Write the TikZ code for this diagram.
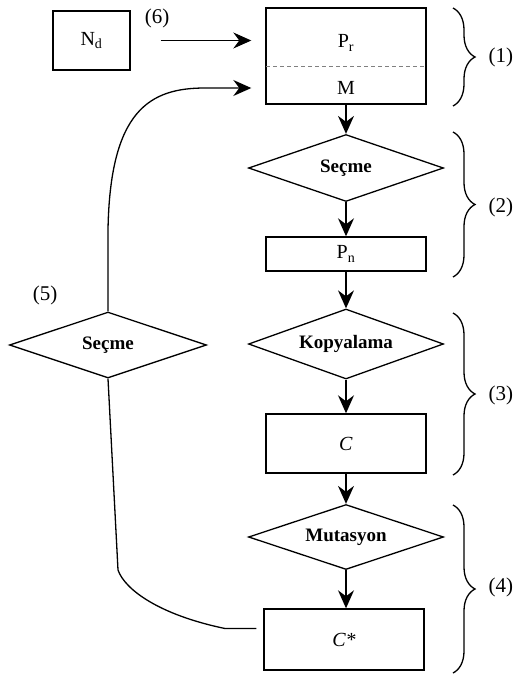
\documentclass[tikz,border=0pt]{standalone}
\usepackage{fontspec}
\setmainfont{Liberation Serif}
\usetikzlibrary{arrows.meta,shapes.geometric,decorations.pathreplacing}
\tikzset{%
  >={Stealth[width=16pt,length=18pt,inset=6pt]},
            base/.style = {rectangle, draw=black, line width=1.4pt,
                           minimum width=160pt, inner sep=0pt,
                           text centered, font=\fontsize{20}{22}\selectfont},
  txt/.style  = {inner sep=0pt, font=\fontsize{20}{22}\selectfont},
  test/.style = {diamond, draw=black, line width=1.3pt, aspect=3, inner sep=0pt,
                 minimum width=195pt, minimum height=67pt,
                 font=\fontsize{19}{21}\selectfont\bfseries},
  brc/.style  = {decorate, decoration={brace, amplitude=22pt}, line width=1.3pt},
  lbl/.style  = {inner sep=0pt, font=\fontsize{21}{23}\selectfont},
}

\begin{document}
\begin{tikzpicture}[x=1pt, y=-1pt, node distance=95pt, line width=1.3pt]
  \useasboundingbox (0,0) rectangle (525,675);

  \node (prm)   [base, minimum height=96pt] at (346,56)           {};
  \node (pr)    [txt] at ([yshift=13pt]prm.center)                 {P\textsubscript{r}};
  \node (m)     [txt] at ([yshift=-32pt]prm.center)                {M};
  \node (nd)    [base, minimum width=77pt, minimum height=59pt] at (91.5,40.5) {N\textsubscript{d}};
  \node (sec1)  [test, below of=prm, yshift=-17pt]                 {Seçme};
  \node (pn)    [base, minimum height=34pt, below of=sec1, yshift=9pt] {P\textsubscript{n}};
  \node (kop)   [test, minimum height=70pt, below of=pn, yshift=5pt] {Kopyalama};
  \node (cbox)  [base, minimum height=59pt, below of=kop, yshift=-4.5pt] {\textit{C}};
  \node (mut)   [test, minimum height=65pt, below of=cbox, yshift=1.5pt] {Mutasyon};
  \node (cstar) [base, minimum height=61pt, below of=mut, yshift=-7.5pt, xshift=-2pt] {\textit{C*}};
  \node (sec2)  [test, minimum width=197pt, minimum height=66pt] at (108,345) {Seçme};

  % step labels
  \node (l1) [lbl, anchor=west] at (488,57)  {(1)};
  \node (l2) [lbl, anchor=west] at (488,207) {(2)};
  \node (l3) [lbl, anchor=west] at (488,395) {(3)};
  \node (l4) [lbl, anchor=west] at (488,587) {(4)};
  \node (l5) [lbl] at (45,295) {(5)};
  \node (l6) [lbl] at (157,18) {(6)};

  \draw[dashed, gray, line width=1pt, dash pattern=on 4pt off 3pt]
        ([yshift=-10pt,xshift=1pt]prm.west) -- ([yshift=-10pt,xshift=-1pt]prm.east);

  \draw[brc] (453,8)   -- (453,106);
  \draw[brc] (453,132) -- (453,277);
  \draw[brc] (453,313) -- (453,475);
  \draw[brc] (453,505) -- (453,673);

  \draw[->] (prm)  -- (sec1);
  \draw[->] (sec1) -- (pn);
  \draw[->] (pn)   -- (kop);
  \draw[->] (kop)  -- (cbox);
  \draw[->] (cbox) -- (mut);
  \draw[->] (mut.south) -- (mut.south |- cstar.north);
  \draw[->, shorten <=30pt, shorten >=14pt] (nd.east) -- (nd.east -| prm.west);
  \draw[->, shorten >=14pt] (sec2.north) -- (108,230)
        .. controls (110,110) and (150,88) .. (205,88) -- (m -| prm.west);
  \draw[shorten >=7pt] (sec2.south) -- (118,570)
        .. controls (125,590) and (160,615) .. (225,628.5) -- ([yshift=11pt]cstar.west);
\end{tikzpicture}
\end{document}
